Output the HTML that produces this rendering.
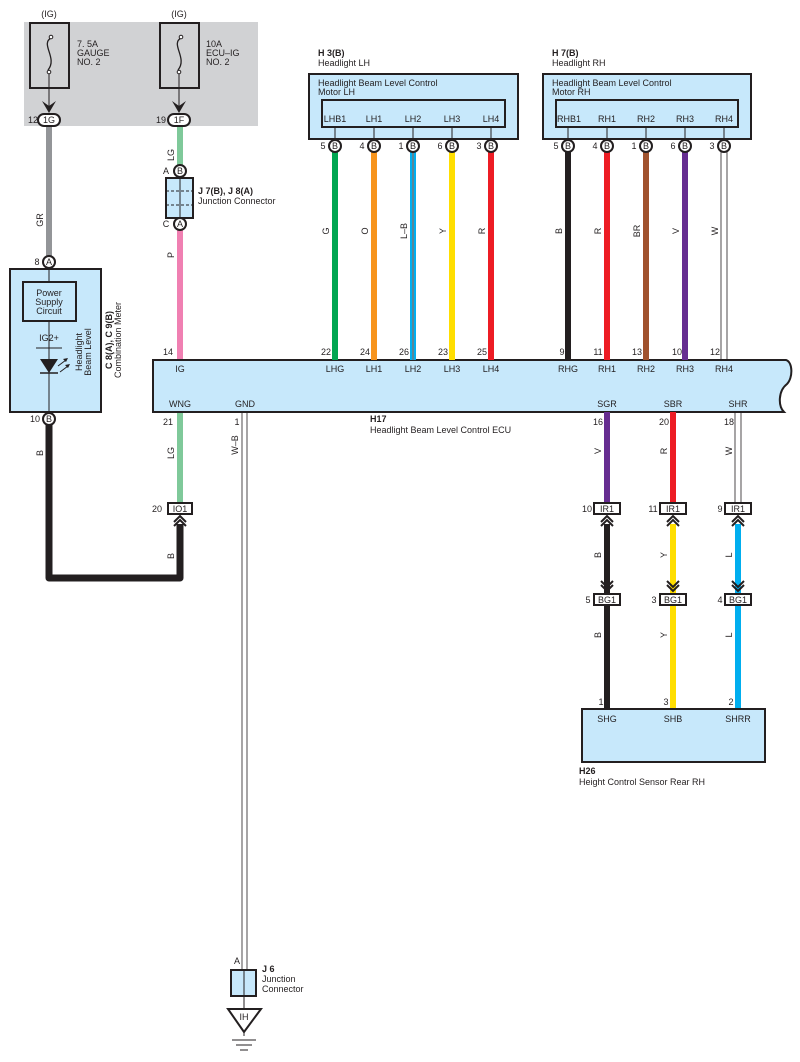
<!DOCTYPE html>
<html><head><meta charset="utf-8"><style>
html,body{margin:0;padding:0;background:#fff;}
svg{display:block;font-family:"Liberation Sans",sans-serif;}
text{font-size:9px;fill:#231f20;}
.b{font-weight:bold;}
</style></head><body>
<svg width="800" height="1062" viewBox="0 0 800 1062" xmlns="http://www.w3.org/2000/svg">
<defs>
<g id="chev"><path d="M-6,6 L0,0 L6,6 M-6,10 L0,4 L6,10" fill="none" stroke="#231f20" stroke-width="2"/></g>
</defs>
<rect x="24" y="22" width="234" height="104" fill="#d1d2d4"/>
<text x="49" y="17" text-anchor="middle">(IG)</text>
<text x="179" y="17" text-anchor="middle">(IG)</text>
<rect x="30" y="23" width="39" height="65" fill="none" stroke="#231f20" stroke-width="2"/>
<rect x="160" y="23" width="39" height="65" fill="none" stroke="#231f20" stroke-width="2"/>
<path d="M51,38 C40,44 58,58 48,70" fill="none" stroke="#231f20" stroke-width="1.3"/>
<path d="M181,38 C170,44 188,58 178,70" fill="none" stroke="#231f20" stroke-width="1.3"/>
<circle cx="51" cy="37" r="1.8" fill="#fff" stroke="#231f20"/><circle cx="49" cy="72" r="1.8" fill="#fff" stroke="#231f20"/>
<circle cx="181" cy="37" r="1.8" fill="#fff" stroke="#231f20"/><circle cx="179" cy="72" r="1.8" fill="#fff" stroke="#231f20"/>
<text x="77" y="47">7. 5A</text><text x="77" y="56">GAUGE</text><text x="77" y="65">NO. 2</text>
<text x="206" y="47">10A</text><text x="206" y="56">ECU–IG</text><text x="206" y="65">NO. 2</text>
<line x1="49" y1="74" x2="49" y2="106" stroke="#231f20"/>
<line x1="179" y1="74" x2="179" y2="106" stroke="#231f20"/>
<path d="M42,101 L49,113 L56,101 L49,106 Z" fill="#231f20"/>
<path d="M172,101 L179,113 L186,101 L179,106 Z" fill="#231f20"/>
<line x1="49" y1="126" x2="49" y2="256" stroke="#939598" stroke-width="6"/>
<line x1="180" y1="126" x2="180" y2="165" stroke="#7fc99a" stroke-width="6"/>
<line x1="180" y1="230" x2="180" y2="360" stroke="#f080b2" stroke-width="6"/>
<line x1="180" y1="412" x2="180" y2="503" stroke="#7fc99a" stroke-width="6"/>
<path d="M49,425 V578 H180 V524" fill="none" stroke="#231f20" stroke-width="7" stroke-linejoin="round"/>
<rect x="38" y="114" width="22" height="12" rx="6" fill="#fff" stroke="#231f20" stroke-width="2"/>
<text x="49" y="123" text-anchor="middle">1G</text><text x="33" y="123" text-anchor="middle">12</text>
<rect x="168" y="114" width="22" height="12" rx="6" fill="#fff" stroke="#231f20" stroke-width="2"/>
<text x="179" y="123" text-anchor="middle">1F</text><text x="161" y="123" text-anchor="middle">19</text>
<text transform="translate(43,220) rotate(-90)" text-anchor="middle">GR</text>
<text transform="translate(174,155) rotate(-90)" text-anchor="middle">LG</text>
<text transform="translate(174,255) rotate(-90)" text-anchor="middle">P</text>
<text transform="translate(174,453) rotate(-90)" text-anchor="middle">LG</text>
<text transform="translate(43,453) rotate(-90)" text-anchor="middle">B</text>
<text transform="translate(174,556) rotate(-90)" text-anchor="middle">B</text>
<rect x="166" y="178" width="27" height="40" fill="#c7e8fb" stroke="#231f20" stroke-width="2"/>
<line x1="180" y1="178" x2="180" y2="218" stroke="#231f20"/>
<line x1="166" y1="191" x2="193" y2="191" stroke="#231f20" stroke-dasharray="3,2"/>
<line x1="166" y1="205" x2="193" y2="205" stroke="#231f20" stroke-dasharray="3,2"/>
<circle cx="180" cy="171" r="6" fill="#fff" stroke="#231f20" stroke-width="2"/><text x="180" y="174" text-anchor="middle" font-size="8">B</text><text x="166" y="174" text-anchor="middle">A</text>
<circle cx="180" cy="224" r="6" fill="#fff" stroke="#231f20" stroke-width="2"/><text x="180" y="227" text-anchor="middle" font-size="8">A</text><text x="166" y="227" text-anchor="middle">C</text>
<text x="198" y="194" class="b">J 7(B), J 8(A)</text><text x="198" y="204">Junction Connector</text>
<rect x="10" y="269" width="91" height="143" fill="#c7e8fb" stroke="#231f20" stroke-width="2"/>
<line x1="49" y1="269" x2="49" y2="412" stroke="#231f20"/>
<rect x="23" y="282" width="53" height="39" fill="#c7e8fb" stroke="#231f20" stroke-width="2"/>
<text x="49" y="296" text-anchor="middle">Power</text><text x="49" y="305" text-anchor="middle">Supply</text><text x="49" y="314" text-anchor="middle">Circuit</text>
<text x="49" y="341" text-anchor="middle">IG2+</text>
<line x1="36" y1="348" x2="62" y2="348" stroke="#231f20"/>
<path d="M40,359 H58 L49,373 Z" fill="#231f20"/><line x1="40" y1="373" x2="58" y2="373" stroke="#231f20" stroke-width="1.5"/>
<path d="M58,366 L66,360 M60,372 L68,366" stroke="#231f20"/>
<path d="M63,359 L68,358 L66,362Z M65,365 L70,364 L68,368Z" fill="#231f20"/>
<text transform="translate(82,352) rotate(-90)" text-anchor="middle">Headlight</text>
<text transform="translate(91,352) rotate(-90)" text-anchor="middle">Beam Level</text>
<text transform="translate(112,340) rotate(-90)" text-anchor="middle" class="b">C 8(A), C 9(B)</text>
<text transform="translate(121,340) rotate(-90)" text-anchor="middle">Combination Meter</text>
<circle cx="49" cy="262" r="6" fill="#fff" stroke="#231f20" stroke-width="2"/><text x="49" y="265" text-anchor="middle" font-size="8">A</text><text x="37" y="265" text-anchor="middle">8</text>
<circle cx="49" cy="419" r="6" fill="#fff" stroke="#231f20" stroke-width="2"/><text x="49" y="422" text-anchor="middle" font-size="8">B</text><text x="35" y="422" text-anchor="middle">10</text>
<rect x="168" y="503" width="24" height="11" fill="#fff" stroke="#231f20" stroke-width="2"/><text x="180" y="512" text-anchor="middle">IO1</text><text x="157" y="512" text-anchor="middle">20</text>
<use href="#chev" x="180" y="516"/>
<text x="318" y="56" class="b">H 3(B)</text><text x="318" y="66">Headlight LH</text>
<rect x="309" y="74" width="209" height="65" fill="#c7e8fb" stroke="#231f20" stroke-width="2"/>
<text x="318" y="86">Headlight Beam Level Control</text><text x="318" y="95">Motor LH</text>
<rect x="322" y="100" width="183" height="27" fill="#c7e8fb" stroke="#231f20" stroke-width="2"/>
<text x="552" y="56" class="b">H 7(B)</text><text x="552" y="66">Headlight RH</text>
<rect x="543" y="74" width="208" height="65" fill="#c7e8fb" stroke="#231f20" stroke-width="2"/>
<text x="552" y="86">Headlight Beam Level Control</text><text x="552" y="95">Motor RH</text>
<rect x="556" y="100" width="182" height="27" fill="#c7e8fb" stroke="#231f20" stroke-width="2"/>
<path d="M153,360 H786 C793,362 793,378 787,384 C778,391 778,406 784,412 H153 Z" fill="#c7e8fb" stroke="#231f20" stroke-width="2"/>
<text x="180" y="372" text-anchor="middle">IG</text>
<text x="180" y="407" text-anchor="middle">WNG</text><text x="245" y="407" text-anchor="middle">GND</text>
<text x="370" y="422" class="b">H17</text><text x="370" y="433">Headlight Beam Level Control ECU</text>
<text x="168" y="355" text-anchor="middle">14</text><text x="168" y="425" text-anchor="middle">21</text>
<g stroke-width="6">
<line x1="335" y1="152" x2="335" y2="360" stroke="#00a651"/>
<line x1="374" y1="152" x2="374" y2="360" stroke="#f7941d"/>
<line x1="413" y1="152" x2="413" y2="360" stroke="#00aeef"/>
<line x1="452" y1="152" x2="452" y2="360" stroke="#ffde00"/>
<line x1="491" y1="152" x2="491" y2="360" stroke="#ed1c24"/>
<line x1="568" y1="152" x2="568" y2="360" stroke="#231f20"/>
<line x1="607" y1="152" x2="607" y2="360" stroke="#ed1c24"/>
<line x1="646" y1="152" x2="646" y2="360" stroke="#a0522d"/>
<line x1="685" y1="152" x2="685" y2="360" stroke="#662d91"/>
<line x1="607" y1="412" x2="607" y2="503" stroke="#662d91"/>
<line x1="673" y1="412" x2="673" y2="503" stroke="#ed1c24"/>
<line x1="607" y1="524" x2="607" y2="593" stroke="#231f20"/>
<line x1="673" y1="524" x2="673" y2="593" stroke="#ffde00"/>
<line x1="738" y1="524" x2="738" y2="593" stroke="#00aeef"/>
<line x1="607" y1="605" x2="607" y2="709" stroke="#231f20"/>
<line x1="673" y1="605" x2="673" y2="709" stroke="#ffde00"/>
<line x1="738" y1="605" x2="738" y2="709" stroke="#00aeef"/>
</g>
<line x1="413" y1="152" x2="413" y2="360" stroke="#231f20" stroke-width="1.5"/>
<line x1="413" y1="152" x2="413" y2="360" stroke="#fff" stroke-width="0.6"/>
<g stroke="#231f20" stroke-width="0.8" fill="none">
<path d="M721,152 V360 M727,152 V360"/>
<path d="M735,412 V503 M741,412 V503"/>
<path d="M242,412 V970 M247,412 V970"/>
</g>
<g font-size="9">
<g stroke="#231f20" stroke-width="1">
<path d="M335,127V140 M374,127V140 M413,127V140 M452,127V140 M491,127V140 M568,127V140 M607,127V140 M646,127V140 M685,127V140 M724,127V140"/>
</g>
<g fill="#fff" stroke="#231f20" stroke-width="2">
<circle cx="335" cy="146" r="6"/><circle cx="374" cy="146" r="6"/><circle cx="413" cy="146" r="6"/><circle cx="452" cy="146" r="6"/><circle cx="491" cy="146" r="6"/>
<circle cx="568" cy="146" r="6"/><circle cx="607" cy="146" r="6"/><circle cx="646" cy="146" r="6"/><circle cx="685" cy="146" r="6"/><circle cx="724" cy="146" r="6"/>
</g>
<g text-anchor="middle" font-size="8">
<text x="335" y="149">B</text><text x="374" y="149">B</text><text x="413" y="149">B</text><text x="452" y="149">B</text><text x="491" y="149">B</text>
<text x="568" y="149">B</text><text x="607" y="149">B</text><text x="646" y="149">B</text><text x="685" y="149">B</text><text x="724" y="149">B</text>
</g>
<g text-anchor="middle">
<text x="323" y="149">5</text><text x="362" y="149">4</text><text x="401" y="149">1</text><text x="440" y="149">6</text><text x="479" y="149">3</text>
<text x="556" y="149">5</text><text x="595" y="149">4</text><text x="634" y="149">1</text><text x="673" y="149">6</text><text x="712" y="149">3</text>
<text x="335" y="122">LHB1</text><text x="374" y="122">LH1</text><text x="413" y="122">LH2</text><text x="452" y="122">LH3</text><text x="491" y="122">LH4</text>
<text x="569" y="122">RHB1</text><text x="607" y="122">RH1</text><text x="646" y="122">RH2</text><text x="685" y="122">RH3</text><text x="724" y="122">RH4</text>
<text x="326" y="355">22</text><text x="365" y="355">24</text><text x="404" y="355">26</text><text x="443" y="355">23</text><text x="482" y="355">25</text>
<text x="562" y="355">9</text><text x="598" y="355">11</text><text x="637" y="355">13</text><text x="677" y="355">10</text><text x="715" y="355">12</text>
<text x="335" y="372">LHG</text><text x="374" y="372">LH1</text><text x="413" y="372">LH2</text><text x="452" y="372">LH3</text><text x="491" y="372">LH4</text>
<text x="568" y="372">RHG</text><text x="607" y="372">RH1</text><text x="646" y="372">RH2</text><text x="685" y="372">RH3</text><text x="724" y="372">RH4</text>
<text x="607" y="407">SGR</text><text x="673" y="407">SBR</text><text x="738" y="407">SHR</text>
<text x="598" y="425">16</text><text x="664" y="425">20</text><text x="729" y="425">18</text>
<text x="237" y="425">1</text>
</g>
<g text-anchor="middle">
<text transform="translate(329,231) rotate(-90)">G</text>
<text transform="translate(368,231) rotate(-90)">O</text>
<text transform="translate(407,231) rotate(-90)">L–B</text>
<text transform="translate(446,231) rotate(-90)">Y</text>
<text transform="translate(485,231) rotate(-90)">R</text>
<text transform="translate(562,231) rotate(-90)">B</text>
<text transform="translate(601,231) rotate(-90)">R</text>
<text transform="translate(640,231) rotate(-90)">BR</text>
<text transform="translate(679,231) rotate(-90)">V</text>
<text transform="translate(718,231) rotate(-90)">W</text>
<text transform="translate(601,451) rotate(-90)">V</text>
<text transform="translate(667,451) rotate(-90)">R</text>
<text transform="translate(732,451) rotate(-90)">W</text>
<text transform="translate(601,555) rotate(-90)">B</text>
<text transform="translate(667,555) rotate(-90)">Y</text>
<text transform="translate(732,555) rotate(-90)">L</text>
<text transform="translate(601,635) rotate(-90)">B</text>
<text transform="translate(667,635) rotate(-90)">Y</text>
<text transform="translate(732,635) rotate(-90)">L</text>
<text transform="translate(238,445) rotate(-90)">W–B</text>
</g>
</g>
<g fill="#fff" stroke="#231f20" stroke-width="2">
<rect x="594" y="503" width="26" height="11"/><rect x="660" y="503" width="26" height="11"/><rect x="725" y="503" width="26" height="11"/>
<rect x="594" y="594" width="26" height="11"/><rect x="660" y="594" width="26" height="11"/><rect x="725" y="594" width="26" height="11"/>
</g>
<g text-anchor="middle">
<text x="607" y="512">IR1</text><text x="673" y="512">IR1</text><text x="738" y="512">IR1</text>
<text x="607" y="603">BG1</text><text x="673" y="603">BG1</text><text x="738" y="603">BG1</text>
<text x="587" y="512">10</text><text x="653" y="512">11</text><text x="720" y="512">9</text>
<text x="588" y="603">5</text><text x="654" y="603">3</text><text x="720" y="603">4</text>
</g>
<use href="#chev" x="607" y="516"/><use href="#chev" x="673" y="516"/><use href="#chev" x="738" y="516"/>
<g transform="translate(0,1176) scale(1,-1)">
<use href="#chev" x="607" y="585"/><use href="#chev" x="673" y="585"/><use href="#chev" x="738" y="585"/>
</g>
<rect x="582" y="709" width="183" height="53" fill="#c7e8fb" stroke="#231f20" stroke-width="2"/>
<g text-anchor="middle"><text x="607" y="722">SHG</text><text x="673" y="722">SHB</text><text x="738" y="722">SHRR</text>
<text x="601" y="705">1</text><text x="666" y="705">3</text><text x="731" y="705">2</text></g>
<text x="579" y="774" class="b">H26</text><text x="579" y="785">Height Control Sensor Rear RH</text>
<text x="237" y="964" text-anchor="middle">A</text>
<rect x="231" y="970" width="25" height="26" fill="#c7e8fb" stroke="#231f20" stroke-width="2"/>
<line x1="244" y1="970" x2="244" y2="1036" stroke="#231f20"/>
<text x="262" y="972" class="b">J 6</text><text x="262" y="982">Junction</text><text x="262" y="992">Connector</text>
<path d="M228,1009 H261 L244,1032 Z" fill="#fff" stroke="#231f20" stroke-width="2"/>
<text x="244" y="1020" text-anchor="middle" font-size="8">IH</text>
<path d="M232,1040 H256 M236,1045 H252 M240,1050 H248" stroke="#231f20"/>
</svg>
</body></html>
